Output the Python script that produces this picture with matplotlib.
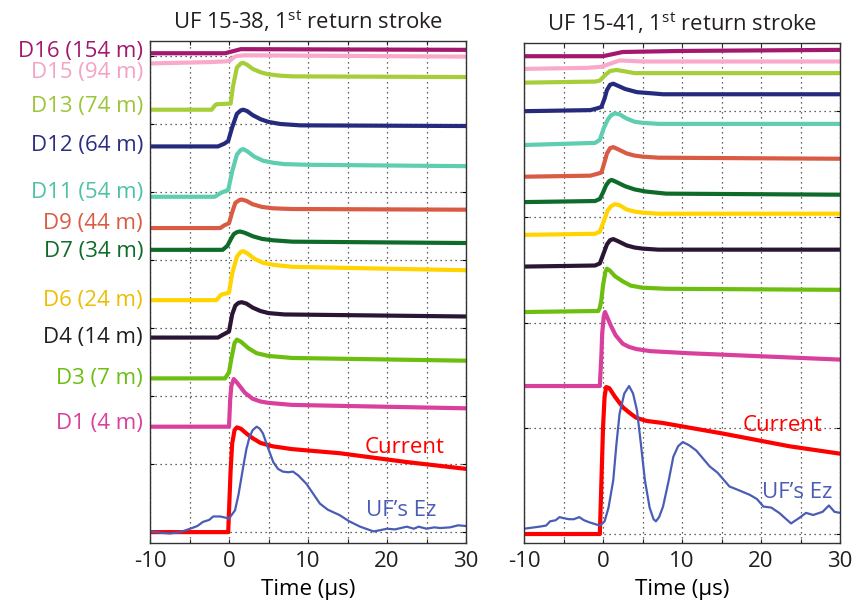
import matplotlib
matplotlib.use("Agg")
import matplotlib.pyplot as plt
import matplotlib.transforms as mtransforms

plt.rcParams.update({"font.family": ["Open Sans", "DejaVu Sans"], "font.size": 16,
                     "mathtext.fontset": "custom", "mathtext.rm": "Open Sans",
                     "text.color": "#231F20", "xtick.color": "#231F20",
                     "axes.edgecolor": "#333333"})

# sensor names / distances and colours (top to bottom)
NAMES_38 = ["D16 (154 m)", "D15 (94 m)", "D13 (74 m)", "D12 (64 m)", "D11 (54 m)",
            "D9 (44 m)", "D7 (34 m)", "D6 (24 m)", "D4 (14 m)", "D3 (7 m)", "D1 (4 m)"]
LINE_COLORS = ["#A3186E", "#F9AACB", "#A6CE39", "#262A7D", "#5ECDB0", "#D95B43",
               "#0E6B2A", "#FFD400", "#2A1634", "#6CBE0F", "#D9409D"]
TEXT_COLORS = ["#A3186E", "#F4A3C4", "#9BC53A", "#2B2F7F", "#4FC2A6", "#D95B43",
               "#0E6B2A", "#EDBE00", "#231F20", "#6CBE0F", "#D9409D"]
LABEL_Y_38 = [7.06, 6.75, 6.26, 5.69, 5.00, 4.54, 4.12, 3.41, 2.86, 2.26, 1.59]

# --- UF 15-38: stacked, offset waveforms (time in us, arbitrary stacked units)
T38 = [
    [-10, -0.5, 0.5, 1.5, 30],
    [-10, -2.4, -0.5, 0.1, 0.6, 1.0, 2, 30],
    [-10, -2.2, -1.8, -1.6, 0.2, 0.5, 1.0, 1.5, 1.8, 2.3, 3.0, 4.0, 5.0, 6.5, 8, 30],
    [-10, -1.4, -0.6, -0.1, 0.4, 1.0, 1.5, 1.8, 2.3, 3.0, 4.0, 5.0, 6.5, 9, 30],
    [-10, -1.8, -1.0, -0.1, 0.4, 1.0, 1.5, 1.8, 2.3, 3.2, 4.3, 5.6, 7, 10, 30],
    [-10, -1.1, -0.6, 0, 0.4, 0.8, 1.3, 1.6, 2.2, 3, 4.2, 5.6, 8, 30],
    [-10, -0.8, -0.2, 0.2, 0.6, 1.0, 1.4, 2.0, 3, 4.2, 5.6, 8, 30],
    [-10, -1.6, -1.0, 0, 0.4, 1.0, 1.5, 1.8, 2.3, 3.2, 4.3, 5.6, 8, 30],
    [-10, -1.4, -0.8, 0, 0.4, 0.8, 1.2, 1.6, 2.2, 3, 4, 5, 7, 30],
    [-10, -0.5, 0, 0.3, 0.7, 1.0, 1.5, 2.5, 3.5, 5, 8, 30],
    [-10, 0, 0.15, 0.3, 0.6, 1.0, 2.0, 3.0, 4, 5, 8, 30],
]
V38 = [
    [7.04, 7.04, 7.07, 7.10, 7.09],
    [6.89, 6.91, 6.92, 6.93, 6.98, 7.00, 7.01, 6.99],
    [6.21, 6.21, 6.27, 6.29, 6.30, 6.55, 6.83, 6.89, 6.90, 6.87, 6.81, 6.76, 6.73, 6.71, 6.70, 6.69],
    [5.67, 5.67, 5.71, 5.75, 5.95, 6.15, 6.20, 6.21, 6.19, 6.13, 6.07, 6.03, 6.00, 5.98, 5.97],
    [4.93, 4.93, 4.99, 5.03, 5.30, 5.55, 5.62, 5.63, 5.60, 5.52, 5.46, 5.43, 5.41, 5.40, 5.38],
    [4.47, 4.47, 4.51, 4.54, 4.70, 4.84, 4.88, 4.89, 4.87, 4.82, 4.78, 4.76, 4.75, 4.74],
    [4.15, 4.15, 4.21, 4.30, 4.38, 4.41, 4.42, 4.40, 4.35, 4.31, 4.29, 4.27, 4.25],
    [3.41, 3.41, 3.49, 3.52, 3.80, 4.05, 4.12, 4.13, 4.10, 4.02, 3.96, 3.93, 3.90, 3.85],
    [2.86, 2.86, 2.90, 2.95, 3.20, 3.33, 3.37, 3.38, 3.36, 3.30, 3.25, 3.22, 3.20, 3.17],
    [2.26, 2.26, 2.35, 2.55, 2.78, 2.83, 2.80, 2.70, 2.63, 2.59, 2.56, 2.52],
    [1.55, 1.55, 1.95, 2.15, 2.25, 2.20, 2.05, 1.96, 1.92, 1.90, 1.87, 1.82],
]
CUR_T38 = [-10, -0.1, 0.2, 0.4, 0.7, 1.0, 1.5, 2.2, 3.0, 4, 5.6, 8, 14, 22.5, 30]
CUR_V38 = [0.0, 0.0, 0.9, 1.30, 1.50, 1.54, 1.52, 1.45, 1.38, 1.31, 1.26, 1.22, 1.16, 1.03, 0.93]
EZ_T38 = [-10, -8.5, -7.5, -6.2, -4.9, -4.0, -3.3, -2.5, -2.0, -1.1, 0, 0.76, 1.2, 1.8, 2.2,
          2.6, 3.0, 3.5, 3.9, 4.3, 4.9, 5.6, 6.2, 6.8, 7.5, 8.1, 8.8, 9.8, 11.5, 12.5, 14,
          15.2, 16.6, 18.3, 19.2, 20, 21, 22.5, 23.4, 24, 25, 26, 26.7, 28, 29, 30]
EZ_V38 = [0.01, -0.01, -0.02, 0.0, 0.05, 0.09, 0.15, 0.18, 0.23, 0.23, 0.20, 0.32, 0.55, 0.96,
          1.22, 1.40, 1.50, 1.55, 1.52, 1.45, 1.25, 1.03, 0.93, 0.89, 0.88, 0.89, 0.83, 0.71,
          0.42, 0.33, 0.25, 0.16, 0.08, 0.01, 0.03, 0.05, 0.04, 0.08, 0.05, 0.08, 0.05, 0.07,
          0.06, 0.07, 0.10, 0.09]

# --- UF 15-41
T41 = [
    [-10, 0, 2.5, 10, 30],
    [-10, -2, -0.2, 2.1, 5, 30],
    [-10, -1, -0.4, 0, 0.4, 0.9, 1.7, 2.5, 4, 5, 30],
    [-10, -1.6, -0.6, -0.2, 0.2, 0.5, 0.9, 1.3, 1.9, 2.8, 4.3, 6, 7.6, 30],
    [-10, -1, -0.4, 0.1, 0.6, 1.0, 1.5, 2.1, 3, 4, 5, 7, 30],
    [-10, -1.6, -0.6, -0.2, 0.2, 0.5, 0.9, 1.3, 1.9, 3, 4, 5, 7, 30],
    [-10, -1, -0.4, 0, 0.4, 0.8, 1.1, 1.7, 2.8, 4, 5.4, 8, 30],
    [-10, -1, -0.4, 0.1, 0.6, 1.0, 1.5, 2.1, 3, 4, 5, 7, 30],
    [-10, -1, -0.4, 0.1, 0.5, 0.9, 1.3, 1.9, 3, 4, 5, 7, 30],
    [-10, -0.6, -0.4, -0.2, 0.0, 0.3, 0.5, 0.9, 1.5, 2.5, 3.5, 5, 8, 30],
    [-10, -0.4, -0.2, -0.1, 0.1, 0.25, 0.6, 1.0, 1.6, 2.5, 3.3, 4.2, 6, 10.9, 30],
]
V41 = [
    [4.52, 4.52, 4.56, 4.57, 4.58],
    [4.40, 4.41, 4.42, 4.48, 4.47, 4.47],
    [4.27, 4.28, 4.29, 4.32, 4.35, 4.38, 4.39, 4.38, 4.36, 4.36, 4.36],
    [4.00, 4.01, 4.03, 4.04, 4.12, 4.20, 4.25, 4.26, 4.24, 4.21, 4.18, 4.17, 4.16, 4.16],
    [3.68, 3.70, 3.73, 3.84, 3.92, 3.96, 3.98, 3.97, 3.93, 3.90, 3.89, 3.88, 3.88],
    [3.38, 3.39, 3.41, 3.42, 3.52, 3.60, 3.65, 3.66, 3.64, 3.60, 3.58, 3.57, 3.56, 3.55],
    [3.14, 3.15, 3.17, 3.23, 3.30, 3.34, 3.35, 3.33, 3.29, 3.26, 3.24, 3.22, 3.21],
    [2.83, 2.84, 2.86, 2.96, 3.06, 3.10, 3.12, 3.11, 3.07, 3.05, 3.04, 3.03, 3.03],
    [2.53, 2.54, 2.56, 2.66, 2.74, 2.78, 2.79, 2.77, 2.73, 2.71, 2.70, 2.69, 2.69],
    [2.10, 2.11, 2.14, 2.22, 2.35, 2.48, 2.51, 2.49, 2.44, 2.39, 2.35, 2.33, 2.32, 2.31],
    [1.40, 1.40, 1.70, 1.90, 2.06, 2.10, 2.04, 1.97, 1.88, 1.80, 1.77, 1.75, 1.73, 1.71, 1.65],
]
CUR_T41 = [-10, -0.4, -0.2, 0.0, 0.2, 0.4, 0.8, 1.5, 2.5, 3.3, 4.2, 5.5, 7.6, 15.2, 23.6, 30]
CUR_V41 = [0.0, 0.0, 0.5, 1.0, 1.3, 1.39, 1.38, 1.30, 1.20, 1.15, 1.10, 1.07, 1.05, 0.95,
           0.83, 0.76]
EZ_T41 = [-10, -9, -8, -7.2, -6.7, -6, -5.5, -5, -4.3, -3.7, -3, -2.4, -1.7, -0.4, 0.2, 0.7,
          1.3, 1.7, 2.1, 2.7, 3.3, 3.8, 4.3, 4.8, 5.3, 5.9, 6.4, 6.7, 7.1, 7.6, 8.3, 8.9, 9.5,
          10.1, 10.9, 11.8, 13.5, 14.5, 16, 17, 18.6, 19.5, 20.3, 21.3, 22.3, 23.8, 24.8,
          25.7, 26.6, 27.8, 28.6, 29.3, 30]
EZ_V41 = [0.05, 0.06, 0.07, 0.08, 0.12, 0.13, 0.16, 0.15, 0.14, 0.14, 0.16, 0.13, 0.11, 0.08,
          0.12, 0.25, 0.51, 0.85, 1.14, 1.33, 1.40, 1.33, 1.17, 0.85, 0.51, 0.25, 0.14, 0.12,
          0.16, 0.26, 0.50, 0.73, 0.83, 0.87, 0.84, 0.79, 0.64, 0.58, 0.45, 0.42, 0.37, 0.33,
          0.26, 0.25, 0.20, 0.10, 0.15, 0.20, 0.18, 0.21, 0.27, 0.21, 0.20]

fig = plt.figure(figsize=(8.56, 6.04), dpi=100)
ax1 = fig.add_axes([150 / 856, 61 / 604, 316 / 856, 502 / 604])
ax2 = fig.add_axes([524 / 856, 61 / 604, 316 / 856, 500 / 604])


def style(ax, ylim, nticks, title):
    ax.set_xlim(-10, 30)
    ax.set_ylim(*ylim)
    ax.set_xticks(range(-10, 31, 5))
    ax.set_xticklabels(["-10", "", "0", "", "10", "", "20", "", "30"])
    ax.set_yticks(range(nticks))
    ax.set_yticklabels([])
    ax.tick_params(direction="in", top=True, right=True, length=3, width=0.8,
                   labelsize=16, pad=6)
    ax.grid(True, ls=(0, (1, 3)), color="#333333", lw=0.9)
    ax.set_axisbelow(True)
    for sp in ax.spines.values():
        sp.set_linewidth(1.0)
    ax.set_xlabel("Time (\u00b5s)", fontsize=16, labelpad=5)
    ax.set_title(title, fontsize=15.8, pad=9)


style(ax1, (-0.16, 7.22), 8, "UF 15-38, 1$^{\\mathrm{st}}$ return stroke")
style(ax2, (-0.085, 4.645), 5, "UF 15-41, 1$^{\\mathrm{st}}$ return stroke")

for ax, TT, VV in ((ax1, T38, V38), (ax2, T41, V41)):
    for t, v, c in zip(TT, VV, LINE_COLORS):
        ax.plot(t, v, color=c, lw=3.0, solid_joinstyle="round")

ax1.plot(CUR_T38, CUR_V38, color="#FF0000", lw=3.0, solid_joinstyle="round")
ax1.plot(EZ_T38, EZ_V38, color="#4A5DB5", lw=1.6, solid_joinstyle="round")
ax2.plot(CUR_T41, CUR_V41, color="#FF0000", lw=3.0, solid_joinstyle="round")
ax2.plot(EZ_T41, EZ_V41, color="#4A5DB5", lw=1.6, solid_joinstyle="round")

trans = mtransforms.blended_transform_factory(ax1.transAxes, ax1.transData)
for name, y, c in zip(NAMES_38, LABEL_Y_38, TEXT_COLORS):
    ax1.text(-0.022, y, name, transform=trans, ha="right", va="center",
             color=c, fontsize=16, clip_on=False)

ax1.text(27.3, 1.25, "Current", color="#FF0000", ha="right", va="center", fontsize=16)
ax1.text(26.3, 0.32, "UF\u2019s Ez", color="#4A5DB5", ha="right", va="center", fontsize=16)
ax2.text(27.8, 1.03, "Current", color="#FF0000", ha="right", va="center", fontsize=16)
ax2.text(29.0, 0.39, "UF\u2019s Ez", color="#4A5DB5", ha="right", va="center", fontsize=16)

fig.savefig("out.png", dpi=100)
